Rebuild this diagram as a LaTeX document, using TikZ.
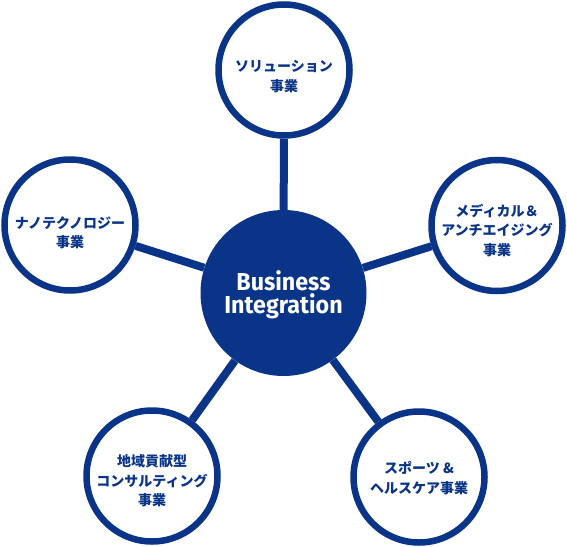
\documentclass[tikz,border=0pt]{standalone}
\usepackage{fontspec}
\newfontfamily\jpfont{Noto Sans CJK JP}
\newfontfamily\latinfont[FakeStretch=0.95]{Fira Sans}
\definecolor{navy}{RGB}{10,52,136}

\begin{document}
\begin{tikzpicture}[x=1pt,y=-1pt,
    hub/.style={circle,fill=navy,minimum size=166pt,inner sep=0pt,text=white,
      align=center,font=\latinfont\bfseries\fontsize{24.5}{23.5}\selectfont},
    unit/.style={circle,draw=navy,line width=6.5pt,fill=white,minimum size=131pt,
      inner sep=0pt,text=navy,align=center,
      font=\jpfont\bfseries\fontsize{14}{19.5}\selectfont},
    spoke/.style={draw=navy,line width=8pt}]
  \useasboundingbox (0,0) rectangle (567,546);

      \node[hub]  (1) at (283.5,293) [text height=47pt] {Business\\Integration};
      \node[unit] (2) at (284,70)    [text height=44pt] {ソリューション\\事業};
      \node[unit] (3) at (70,225)    [text height=47pt] {ナノテクノロジー\\事業};
      \node[unit] (4) at (497,225.5) [text height=61pt] {メディカル＆\\アンチエイジング\\事業};
      \node[unit] (5) at (152,476)   [text height=61pt] {地域貢献型\\コンサルティング\\事業};
      \node[unit] (6) at (419,477)   [text height=34pt] {スポーツ \&\\ヘルスケア事業};

      \path[spoke] (1) edge (2);
      \path[spoke] (1) edge (3);
      \path[spoke] (1) edge (4);
      \path[spoke] (1) edge (5);
      \path[spoke] (1) edge (6);
    \end{tikzpicture}
\end{document}
